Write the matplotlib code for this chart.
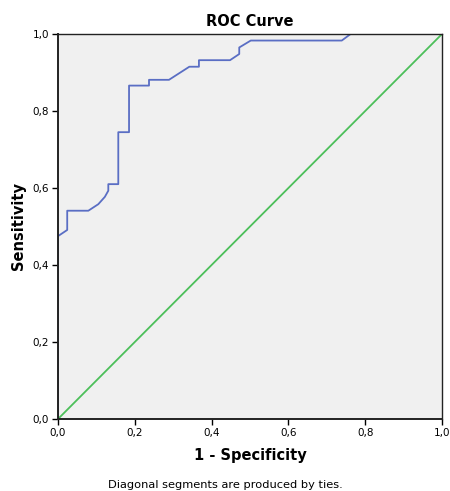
import matplotlib
matplotlib.use("Agg")
import matplotlib.pyplot as plt

fpr = [0.0, 0.0, 0.024, 0.024, 0.079, 0.105, 0.122, 0.131, 0.131, 0.157, 0.157,
       0.185, 0.185, 0.237, 0.237, 0.289, 0.342, 0.367, 0.367, 0.448, 0.472,
       0.472, 0.502, 0.739, 0.762, 1.0]
tpr = [0.0, 0.475, 0.491, 0.541, 0.541, 0.558, 0.577, 0.593, 0.610, 0.610, 0.745,
       0.745, 0.866, 0.866, 0.881, 0.881, 0.915, 0.915, 0.932, 0.932, 0.948,
       0.965, 0.983, 0.983, 1.0, 1.0]
ref = [0.0, 1.0]
ticks = [0.0, 0.2, 0.4, 0.6, 0.8, 1.0]
tick_labels = ["0,0", "0,2", "0,4", "0,6", "0,8", "1,0"]

fig = plt.figure(figsize=(4.5, 4.91), dpi=100)
ax = fig.add_axes([58/450, 1-419/491, 384/450, 385/491])
ax.set_facecolor("#f0f0f0")
ax.plot(ref, ref, color="#4cbf5a", lw=1.3, zorder=2)
ax.plot(fpr, tpr, color="#5a6ec4", lw=1.3, zorder=2.2)
ax.set_xlim(0, 1)
ax.set_ylim(0, 1)
ax.set_xticks(ticks)
ax.set_xticklabels(tick_labels)
ax.set_yticks(ticks)
ax.set_yticklabels(tick_labels)
ax.tick_params(direction="out", length=4, width=1, labelsize=7.5, pad=2.5)
for s in ax.spines.values():
    s.set_linewidth(1.0)
    s.set_color("#222222")
    s.set_zorder(3)
ax.spines["left"].set_linewidth(1.4)
ax.spines["bottom"].set_linewidth(1.4)
ax.set_title("ROC Curve", fontsize=10.5, fontweight="bold", pad=6)
ax.set_xlabel("1 - Specificity", fontsize=10.5, fontweight="bold", labelpad=7)
ax.set_ylabel("Sensitivity", fontsize=10.5, fontweight="bold", labelpad=5)
fig.text(0.5, 1-485/491, "Diagonal segments are produced by ties.", ha="center",
         va="center", fontsize=8.2)
fig.savefig("out.png", dpi=100)
